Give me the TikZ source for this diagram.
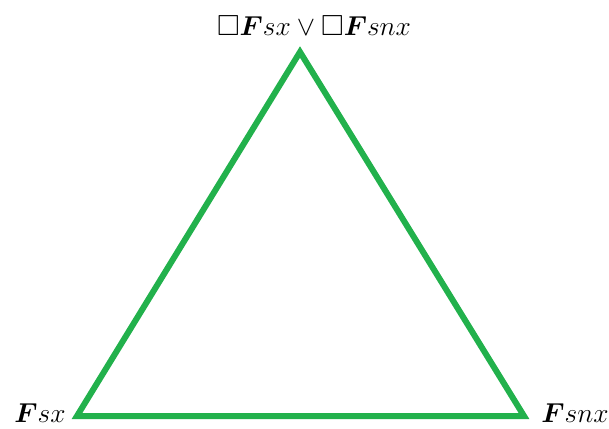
\documentclass[tikz,border=0pt]{standalone}
\usepackage{amssymb}
\usepackage{bm}
\usepackage{graphicx}
\definecolor{pgreen}{RGB}{34,177,76}
\newcommand{\biglbl}[1]{\scalebox{1.32}{#1}}
\begin{document}
\begin{tikzpicture}[x=1pt,y=-1pt,
  edge/.style={draw=pgreen,line width=6pt,line join=miter},
  lbl/.style={inner sep=0pt,anchor=base,font=\fontsize{22}{26}\selectfont}]
\useasboundingbox (0,0) rectangle (609,428);
\coordinate (t) at (300,52);
\coordinate (l) at (77,416);
\coordinate (r) at (524,416);
\draw[edge] (t) -- (l) -- (r) -- cycle;
\node[lbl] (tl) at (314,36) {\biglbl{$\square\bm{F}sx\vee\square\bm{F}snx$}};
\node[lbl] (ll) at (40,422) {\biglbl{$\bm{F}sx$}};
\node[lbl] (rl) at (575,422) {\biglbl{$\bm{F}snx$}};
\end{tikzpicture}
\end{document}
